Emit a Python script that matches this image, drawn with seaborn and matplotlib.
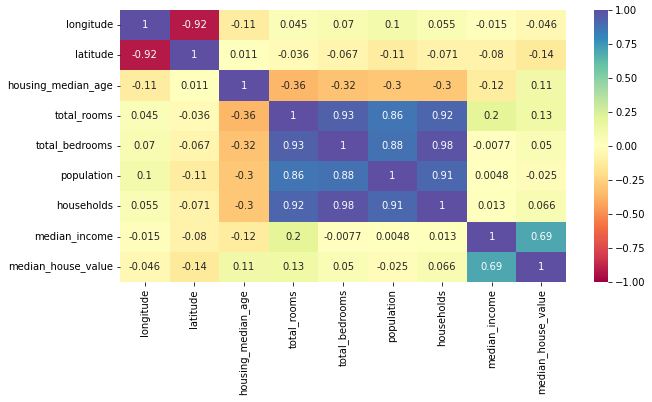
import numpy as np
import pandas as pd
import seaborn as sns
import matplotlib.pyplot as plt

# column names
cols = ['longitude', 'latitude', 'housing_median_age', 'total_rooms', 'total_bedrooms',
        'population', 'households', 'median_income', 'median_house_value']

# correlation values
longitude = [1, -0.92, -0.11, 0.045, 0.07, 0.1, 0.055, -0.015, -0.046]
latitude = [-0.92, 1, 0.011, -0.036, -0.067, -0.11, -0.071, -0.08, -0.14]
housing_median_age = [-0.11, 0.011, 1, -0.36, -0.32, -0.3, -0.3, -0.12, 0.11]
total_rooms = [0.045, -0.036, -0.36, 1, 0.93, 0.86, 0.92, 0.2, 0.13]
total_bedrooms = [0.07, -0.067, -0.32, 0.93, 1, 0.88, 0.98, -0.0077, 0.05]
population = [0.1, -0.11, -0.3, 0.86, 0.88, 1, 0.91, 0.0048, -0.025]
households = [0.055, -0.071, -0.3, 0.92, 0.98, 0.91, 1, 0.013, 0.066]
median_income = [-0.015, -0.08, -0.12, 0.2, -0.0077, 0.0048, 0.013, 1, 0.69]
median_house_value = [-0.046, -0.14, 0.11, 0.13, 0.05, -0.025, 0.066, 0.69, 1]

corr = pd.DataFrame([longitude, latitude, housing_median_age, total_rooms, total_bedrooms,
                     population, households, median_income, median_house_value],
                    index=cols, columns=cols)

# notebook style figure, 72 dpi
fig = plt.figure(figsize=(652 / 72, 402 / 72), dpi=72)
ax = fig.add_axes([120 / 652, 120 / 402, 446 / 652, 272 / 402])
cax = fig.add_axes([594 / 652, 120 / 402, 14 / 652, 272 / 402])

sns.heatmap(corr, vmin=-1, vmax=1, annot=True, cmap='Spectral', ax=ax, cbar_ax=cax)

fig.savefig('out.png', dpi=72, facecolor='white')
